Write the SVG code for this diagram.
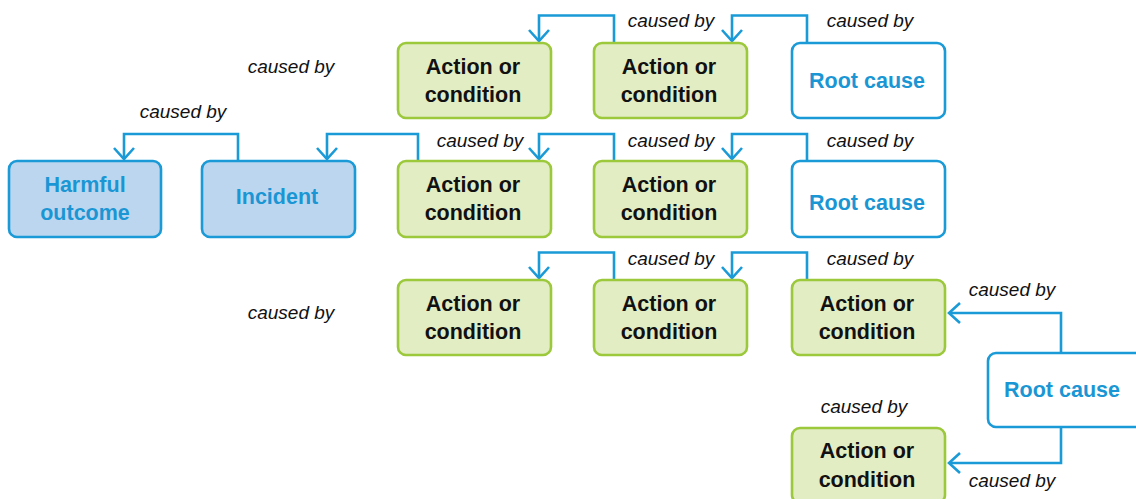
<svg xmlns="http://www.w3.org/2000/svg" width="1136" height="499" viewBox="0 0 1136 499">
<style>
.box{stroke-width:2.6}
.blue{fill:#bdd6ef;stroke:#1a9ad6}
.root{fill:#ffffff;stroke:#1a9ad6}
.green{fill:#e2edc4;stroke:#9cc83c}
.t{font-family:"Liberation Sans",Arial,sans-serif;font-weight:bold;font-size:21.5px;text-anchor:middle}
.tb{fill:#1a96d4}
.tk{fill:#111111}
.lbl{font-family:"Liberation Sans",Arial,sans-serif;font-style:italic;font-size:19px;fill:#111111;text-anchor:middle}
.c{fill:none;stroke:#1a9ad6;stroke-width:2.6}
.ah{fill:none;stroke:#1a9ad6;stroke-width:2.6}
</style>
<rect width="1136" height="499" fill="#ffffff"/>
<g id="connectors">
<path class="c" d="M614,43 V15.5 H539 V41"/>
<path class="ah" d="M529,30 L539,41 L549,30"/>
<path class="c" d="M807,43 V15.5 H732 V41"/>
<path class="ah" d="M722,30 L732,41 L742,30"/>
<path class="c" d="M238,161 V134 H124 V159"/>
<path class="ah" d="M114,148 L124,159 L134,148"/>
<path class="c" d="M418,161 V134 H327 V159"/>
<path class="ah" d="M317,148 L327,159 L337,148"/>
<path class="c" d="M614,161 V134 H539 V159"/>
<path class="ah" d="M529,148 L539,159 L549,148"/>
<path class="c" d="M807,161 V134 H732 V159"/>
<path class="ah" d="M722,148 L732,159 L742,148"/>
<path class="c" d="M614,280 V252.5 H539 V278"/>
<path class="ah" d="M529,267 L539,278 L549,267"/>
<path class="c" d="M807,280 V252.5 H732 V278"/>
<path class="ah" d="M722,267 L732,278 L742,267"/>
<path class="c" d="M1061,353 V313 H949"/>
<path class="ah" d="M960,303 L949,313 L960,323"/>
<path class="c" d="M1061,427 V463 H949"/>
<path class="ah" d="M960,453 L949,463 L960,473"/>
</g>
<g id="labels">
<text class="lbl" x="291" y="73">caused by</text>
<text class="lbl" x="183" y="118">caused by</text>
<text class="lbl" x="671" y="27">caused by</text>
<text class="lbl" x="870" y="27">caused by</text>
<text class="lbl" x="480" y="147">caused by</text>
<text class="lbl" x="671" y="147">caused by</text>
<text class="lbl" x="870" y="147">caused by</text>
<text class="lbl" x="671" y="265">caused by</text>
<text class="lbl" x="870" y="265">caused by</text>
<text class="lbl" x="291" y="319">caused by</text>
<text class="lbl" x="1012" y="296">caused by</text>
<text class="lbl" x="864" y="413">caused by</text>
<text class="lbl" x="1012" y="487">caused by</text>
</g>
<g id="harmful-outcome">
<rect class="box blue" x="9" y="161" width="152" height="76" rx="8"/>
<text class="t tb" x="85" y="192">Harmful</text>
<text class="t tb" x="85" y="220">outcome</text>
</g>
<g id="incident">
<rect class="box blue" x="202" y="161" width="153" height="76" rx="8"/>
<text class="t tb" x="277" y="204">Incident</text>
</g>
<g id="r1a1">
<rect class="box green" x="398" y="43" width="153" height="75" rx="8"/>
<text class="t tk" x="473" y="74">Action or</text>
<text class="t tk" x="473" y="102">condition</text>
</g>
<g id="r1a2">
<rect class="box green" x="594" y="43" width="153" height="75" rx="8"/>
<text class="t tk" x="669" y="74">Action or</text>
<text class="t tk" x="669" y="102">condition</text>
</g>
<g id="r1root">
<rect class="box root" x="792" y="43" width="153" height="75" rx="8"/>
<text class="t tb" x="867" y="88">Root cause</text>
</g>
<g id="r2a1">
<rect class="box green" x="398" y="161" width="153" height="76" rx="8"/>
<text class="t tk" x="473" y="192">Action or</text>
<text class="t tk" x="473" y="220">condition</text>
</g>
<g id="r2a2">
<rect class="box green" x="594" y="161" width="153" height="76" rx="8"/>
<text class="t tk" x="669" y="192">Action or</text>
<text class="t tk" x="669" y="220">condition</text>
</g>
<g id="r2root">
<rect class="box root" x="792" y="161" width="153" height="76" rx="8"/>
<text class="t tb" x="867" y="210">Root cause</text>
</g>
<g id="r3a1">
<rect class="box green" x="398" y="280" width="153" height="75" rx="8"/>
<text class="t tk" x="473" y="311">Action or</text>
<text class="t tk" x="473" y="339">condition</text>
</g>
<g id="r3a2">
<rect class="box green" x="594" y="280" width="153" height="75" rx="8"/>
<text class="t tk" x="669" y="311">Action or</text>
<text class="t tk" x="669" y="339">condition</text>
</g>
<g id="r3a3">
<rect class="box green" x="792" y="280" width="153" height="75" rx="8"/>
<text class="t tk" x="867" y="311">Action or</text>
<text class="t tk" x="867" y="339">condition</text>
</g>
<g id="r4root">
<rect class="box root" x="988" y="353" width="160" height="74" rx="8"/>
<text class="t tb" x="1062" y="397">Root cause</text>
</g>
<g id="r4a1">
<rect class="box green" x="792" y="428" width="153" height="75" rx="8"/>
<text class="t tk" x="867" y="458">Action or</text>
<text class="t tk" x="867" y="487">condition</text>
</g>
</svg>
